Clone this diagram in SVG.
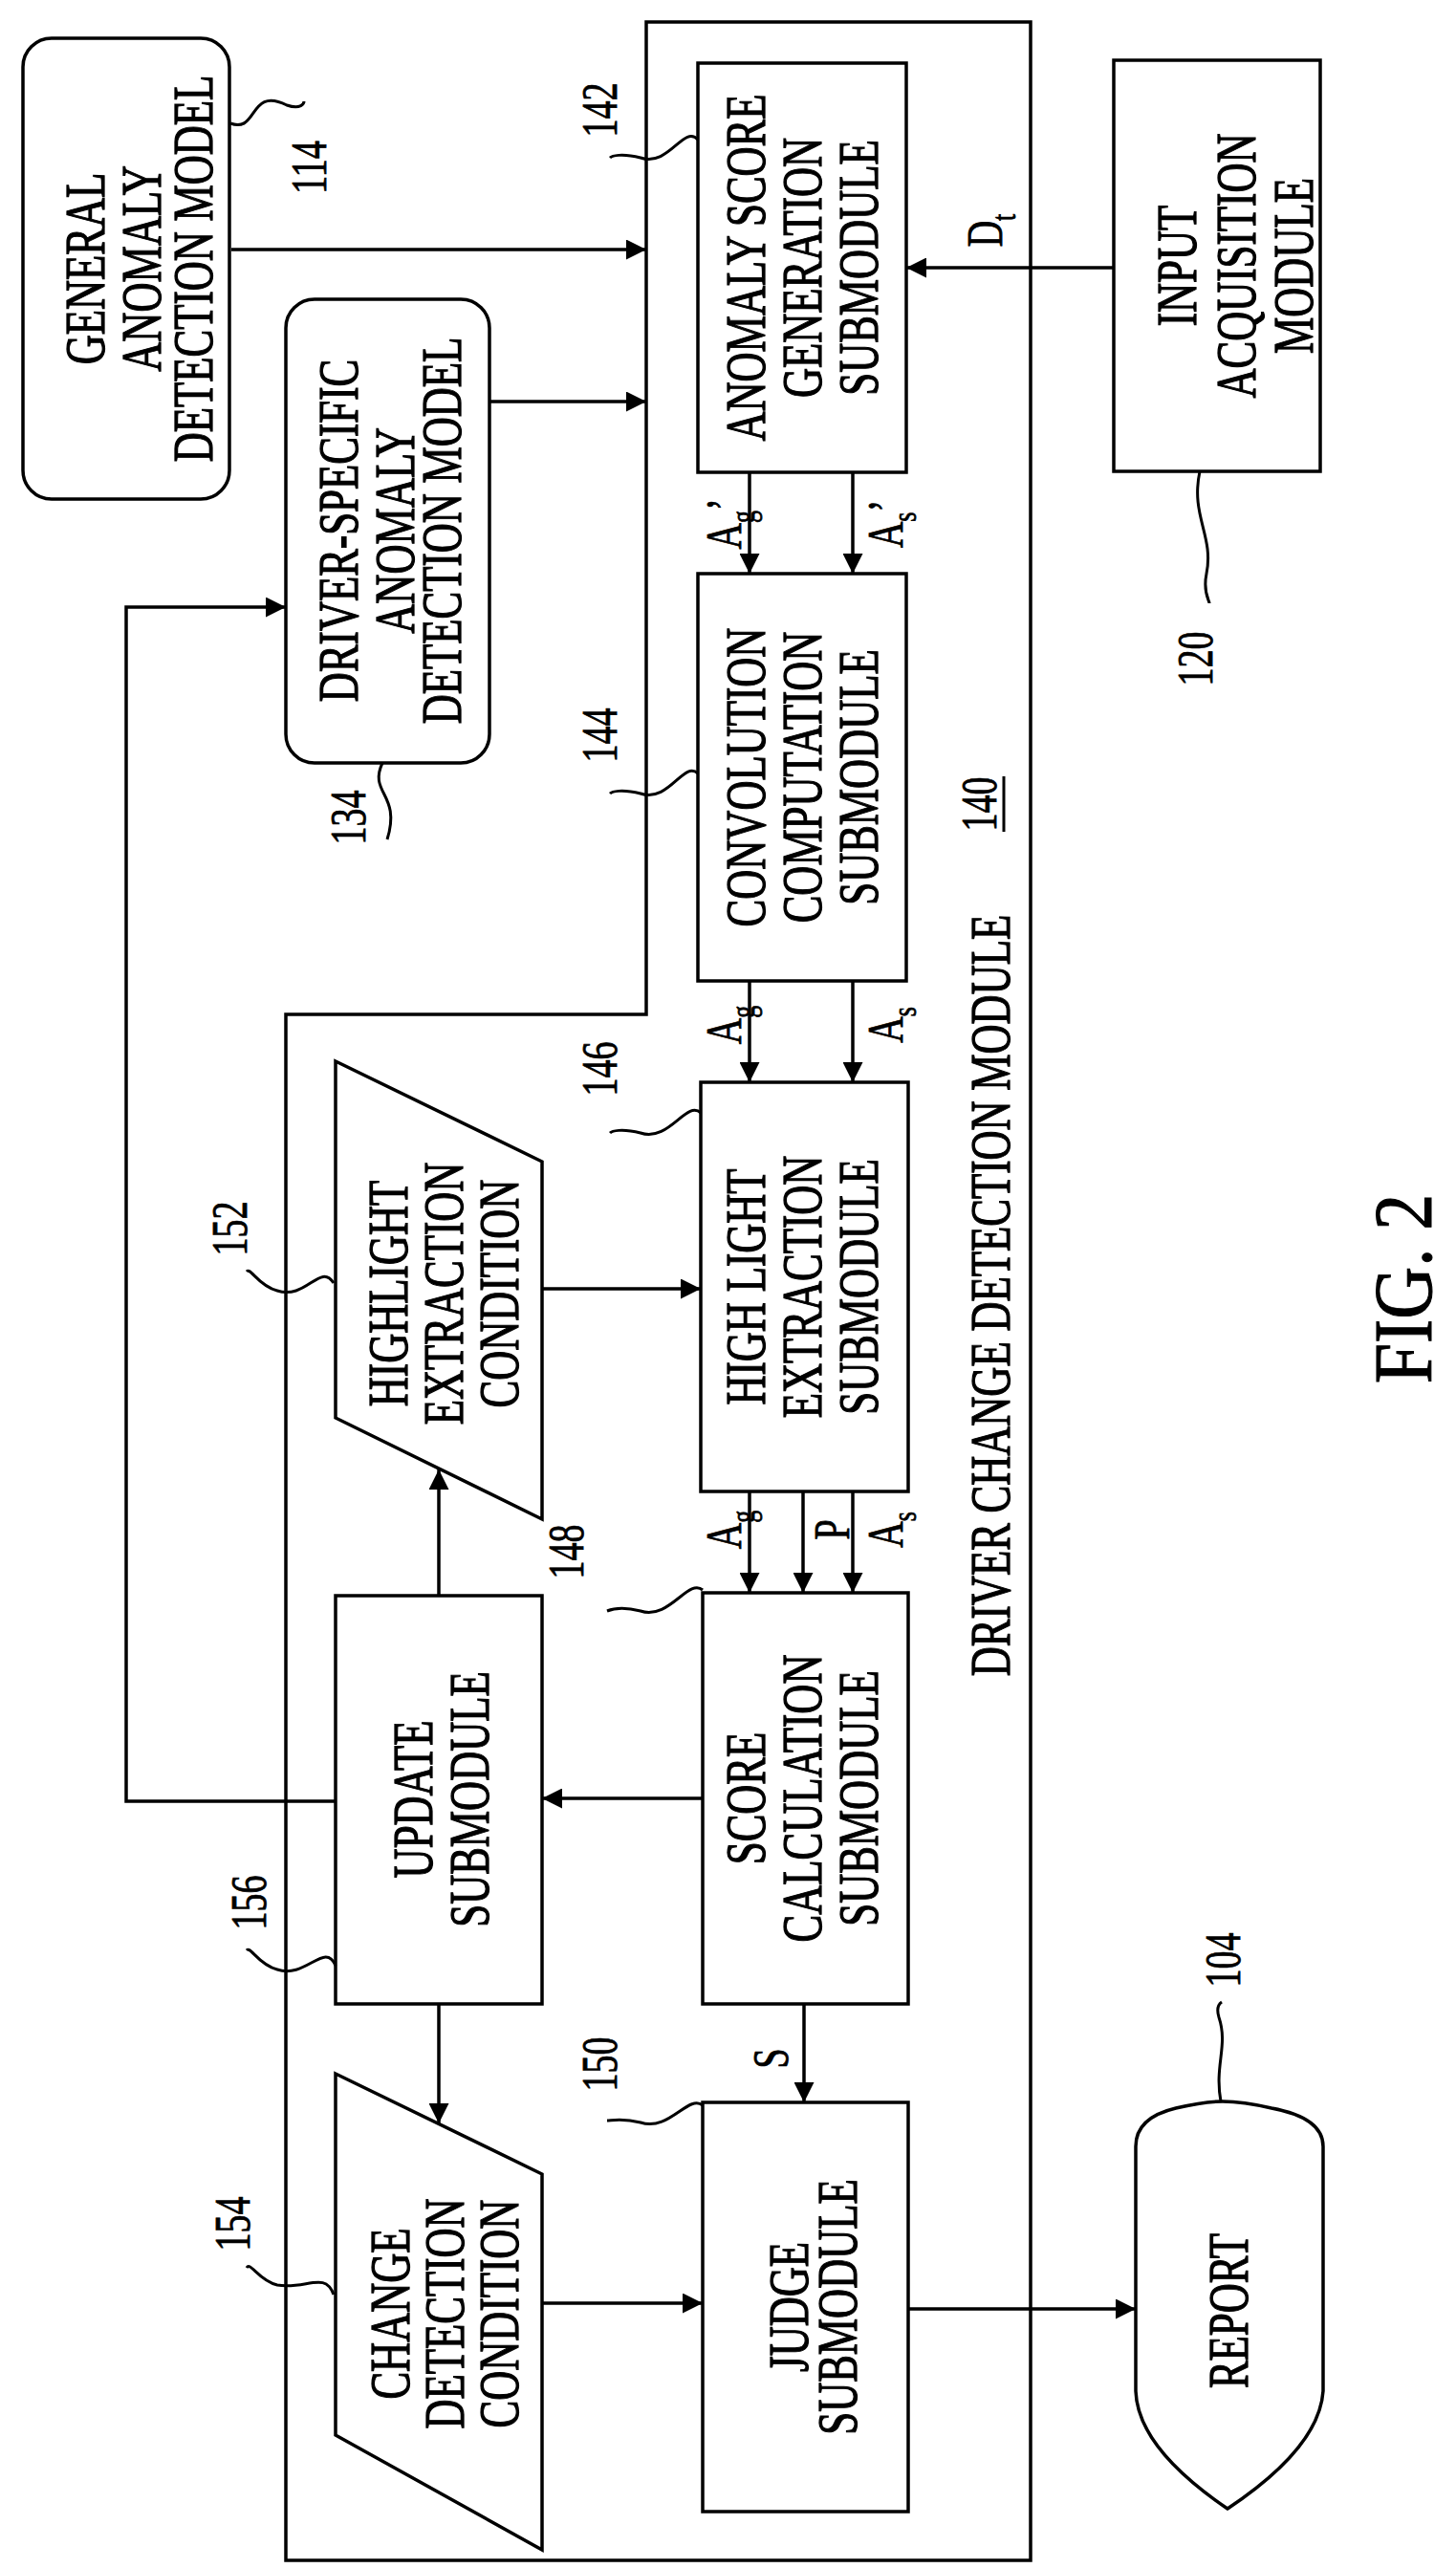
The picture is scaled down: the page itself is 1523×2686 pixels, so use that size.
<svg xmlns="http://www.w3.org/2000/svg" width="1523" height="2686" viewBox="0 0 1523 2686">
<style>
.b{fill:#fff;stroke:#000;stroke-width:3.5}
.l{fill:none;stroke:#000;stroke-width:3.5}
.s{fill:none;stroke:#000;stroke-width:3}
.t{font-family:"Liberation Serif",serif;font-size:43px;text-anchor:middle;dominant-baseline:central;fill:#000;stroke:#000;stroke-width:0.9}
.n{font-family:"Liberation Serif",serif;font-size:38px;text-anchor:middle;dominant-baseline:central;fill:#000;stroke:#000;stroke-width:0.6}
</style>
<defs>
<marker id="a" viewBox="0 0 10 10" refX="10" refY="5" markerWidth="7" markerHeight="6" markerUnits="strokeWidth" orient="auto"><path d="M0,0 L10,5 L0,10 Z" fill="#000"/></marker>
</defs>
<rect width="1523" height="2686" fill="#fff"/>
<g id="module140">
<path class="b" d="M676,23 L1078,23 L1078,2678 L299,2678 L299,1061 L676,1061 Z"/>
<text class="t" transform="translate(1035,1355) rotate(-90) scale(1,1.4)">DRIVER CHANGE DETECTION MODULE</text>
<text class="n" transform="translate(1024,841) rotate(-90) scale(1,1.4)">140</text>
<line class="s" x1="1050" y1="812" x2="1050" y2="870"/>
</g>
<g id="general114">
<rect class="b" x="24" y="40" width="216" height="482" rx="30"/>
<text class="t" transform="translate(88,281) rotate(-90) scale(1,1.4)">GENERAL</text>
<text class="t" transform="translate(147,281) rotate(-90) scale(1,1.4)">ANOMALY</text>
<text class="t" transform="translate(201,281) rotate(-90) scale(1,1.4)">DETECTION MODEL</text>
<path class="s" d="M241,129 C270,140 260,90 300,110 C315,115 318,108 318,106"/>
<text class="n" transform="translate(323,175) rotate(-90) scale(1,1.4)">114</text>
</g>
<g id="driver134">
<rect class="b" x="299" y="313" width="213" height="485" rx="30"/>
<text class="t" transform="translate(353,555) rotate(-90) scale(1,1.4)">DRIVER-SPECIFIC</text>
<text class="t" transform="translate(412,555) rotate(-90) scale(1,1.4)">ANOMALY</text>
<text class="t" transform="translate(461,555) rotate(-90) scale(1,1.4)">DETECTION MODEL</text>
<path class="s" d="M400,798 C385,830 420,830 405,878"/>
<text class="n" transform="translate(364,855) rotate(-90) scale(1,1.4)">134</text>
</g>
<g id="asg142">
<rect class="b" x="730" y="66" width="218" height="428"/>
<text class="t" transform="translate(779,280) rotate(-90) scale(1,1.4)">ANOMALY SCORE</text>
<text class="t" transform="translate(838,280) rotate(-90) scale(1,1.4)">GENERATION</text>
<text class="t" transform="translate(897,280) rotate(-90) scale(1,1.4)">SUBMODULE</text>
<path class="s" d="M730,146 C715,130 700,175 670,165 C650,160 640,163 638,165"/>
<text class="n" transform="translate(627,115) rotate(-90) scale(1,1.4)">142</text>
</g>
<g id="input120">
<rect class="b" x="1165" y="63" width="216" height="430"/>
<text class="t" transform="translate(1230,278) rotate(-90) scale(1,1.4)">INPUT</text>
<text class="t" transform="translate(1292,278) rotate(-90) scale(1,1.4)">ACQUISITION</text>
<text class="t" transform="translate(1352,278) rotate(-90) scale(1,1.4)">MODULE</text>
<path class="s" d="M1255,493 C1245,540 1270,560 1262,600 C1258,620 1265,628 1265,631"/>
<text class="n" transform="translate(1250,689) rotate(-90) scale(1,1.4)">120</text>
</g>
<g id="conv144">
<rect class="b" x="730" y="600" width="218" height="426"/>
<text class="t" transform="translate(779,813) rotate(-90) scale(1,1.4)">CONVOLUTION</text>
<text class="t" transform="translate(838,813) rotate(-90) scale(1,1.4)">COMPUTATION</text>
<text class="t" transform="translate(897,813) rotate(-90) scale(1,1.4)">SUBMODULE</text>
<path class="s" d="M730,809 C715,795 700,840 670,830 C650,825 640,828 638,830"/>
<text class="n" transform="translate(627,769) rotate(-90) scale(1,1.4)">144</text>
</g>
<g id="hl146">
<rect class="b" x="733" y="1132" width="217" height="428"/>
<text class="t" transform="translate(779,1346) rotate(-90) scale(1,1.4)">HIGH LIGHT</text>
<text class="t" transform="translate(838,1346) rotate(-90) scale(1,1.4)">EXTRACTION</text>
<text class="t" transform="translate(897,1346) rotate(-90) scale(1,1.4)">SUBMODULE</text>
<path class="s" d="M733,1164 C718,1150 700,1195 670,1185 C650,1180 640,1183 638,1185"/>
<text class="n" transform="translate(627,1118) rotate(-90) scale(1,1.4)">146</text>
</g>
<g id="hlcond152">
<path class="b" d="M351,1110 L567,1215 L567,1589 L351,1483 Z"/>
<text class="t" transform="translate(405,1353) rotate(-90) scale(1,1.4)">HIGHLIGHT</text>
<text class="t" transform="translate(463,1353) rotate(-90) scale(1,1.4)">EXTRACTION</text>
<text class="t" transform="translate(521,1353) rotate(-90) scale(1,1.4)">CONDITION</text>
<path class="s" d="M349,1342 C335,1320 320,1360 290,1350 C270,1345 262,1325 258,1330"/>
<text class="n" transform="translate(240,1285) rotate(-90) scale(1,1.4)">152</text>
</g>
<g id="update156">
<rect class="b" x="351" y="1669" width="216" height="427"/>
<text class="t" transform="translate(431,1882) rotate(-90) scale(1,1.4)">UPDATE</text>
<text class="t" transform="translate(490,1882) rotate(-90) scale(1,1.4)">SUBMODULE</text>
<path class="s" d="M351,2056 C340,2030 320,2070 290,2060 C270,2055 262,2035 258,2040"/>
<text class="n" transform="translate(260,1990) rotate(-90) scale(1,1.4)">156</text>
</g>
<g id="score148">
<rect class="b" x="735" y="1666" width="215" height="430"/>
<text class="t" transform="translate(779,1881) rotate(-90) scale(1,1.4)">SCORE</text>
<text class="t" transform="translate(838,1881) rotate(-90) scale(1,1.4)">CALCULATION</text>
<text class="t" transform="translate(897,1881) rotate(-90) scale(1,1.4)">SUBMODULE</text>
<path class="s" d="M735,1663 C720,1650 700,1695 670,1685 C650,1680 640,1683 635,1685"/>
<text class="n" transform="translate(592,1623) rotate(-90) scale(1,1.4)">148</text>
</g>
<g id="change154">
<path class="b" d="M351,2169 L567,2274 L567,2667 L351,2547 Z"/>
<text class="t" transform="translate(407,2420) rotate(-90) scale(1,1.4)">CHANGE</text>
<text class="t" transform="translate(464,2420) rotate(-90) scale(1,1.4)">DETECTION</text>
<text class="t" transform="translate(521,2420) rotate(-90) scale(1,1.4)">CONDITION</text>
<path class="s" d="M349,2400 C340,2375 320,2395 290,2390 C270,2385 262,2365 258,2372"/>
<text class="n" transform="translate(243,2326) rotate(-90) scale(1,1.4)">154</text>
</g>
<g id="judge150">
<rect class="b" x="735" y="2199" width="215" height="428"/>
<text class="t" transform="translate(824,2413) rotate(-90) scale(1,1.4)">JUDGE</text>
<text class="t" transform="translate(875,2413) rotate(-90) scale(1,1.4)">SUBMODULE</text>
<path class="s" d="M735,2202 C720,2190 700,2230 670,2220 C650,2215 640,2218 635,2218"/>
<text class="n" transform="translate(627,2159) rotate(-90) scale(1,1.4)">150</text>
</g>
<g id="report104">
<path class="b" d="M1188,2245 Q1188,2215 1230,2205 Q1260,2198 1279,2198 Q1300,2198 1330,2205 Q1384,2215 1384,2245 L1384,2501 Q1380,2560 1284,2624 Q1190,2560 1188,2501 Z"/>
<text class="t" transform="translate(1284,2417) rotate(-90) scale(1,1.4)">REPORT</text>
<path class="s" d="M1277,2198 C1270,2160 1285,2140 1275,2110 C1272,2100 1275,2096 1278,2094"/>
<text class="n" transform="translate(1279,2050) rotate(-90) scale(1,1.4)">104</text>
</g>
<g id="connectors">
<line class="l" x1="242" y1="261" x2="676" y2="261" marker-end="url(#a)"/>
<line class="l" x1="512" y1="420" x2="676" y2="420" marker-end="url(#a)"/>
<line class="l" x1="1165" y1="280" x2="948" y2="280" marker-end="url(#a)"/>
<line class="l" x1="784" y1="494" x2="784" y2="600" marker-end="url(#a)"/>
<line class="l" x1="892" y1="494" x2="892" y2="600" marker-end="url(#a)"/>
<line class="l" x1="784" y1="1026" x2="784" y2="1132" marker-end="url(#a)"/>
<line class="l" x1="892" y1="1026" x2="892" y2="1132" marker-end="url(#a)"/>
<line class="l" x1="567" y1="1348" x2="733" y2="1348" marker-end="url(#a)"/>
<line class="l" x1="784" y1="1560" x2="784" y2="1666" marker-end="url(#a)"/>
<line class="l" x1="840" y1="1560" x2="840" y2="1666" marker-end="url(#a)"/>
<line class="l" x1="892" y1="1560" x2="892" y2="1666" marker-end="url(#a)"/>
<line class="l" x1="735" y1="1881" x2="567" y2="1881" marker-end="url(#a)"/>
<line class="l" x1="459" y1="1669" x2="459" y2="1537" marker-end="url(#a)"/>
<polyline class="l" points="351,1884 132,1884 132,635 299,635" marker-end="url(#a)"/>
<line class="l" x1="459" y1="2096" x2="459" y2="2221" marker-end="url(#a)"/>
<line class="l" x1="841" y1="2096" x2="841" y2="2199" marker-end="url(#a)"/>
<line class="l" x1="567" y1="2409" x2="735" y2="2409" marker-end="url(#a)"/>
<line class="l" x1="950" y1="2415" x2="1188" y2="2415" marker-end="url(#a)"/>
<text class="n" transform="translate(1030,241) rotate(-90) scale(1,1.4)">D<tspan font-size="26" baseline-shift="sub">t</tspan></text>
<text class="n" transform="translate(757,548) rotate(-90) scale(1,1.4)">A<tspan font-size="26" baseline-shift="sub">g</tspan>’</text>
<text class="n" transform="translate(926,548) rotate(-90) scale(1,1.4)">A<tspan font-size="26" baseline-shift="sub">s</tspan>’</text>
<text class="n" transform="translate(757,1072) rotate(-90) scale(1,1.4)">A<tspan font-size="26" baseline-shift="sub">g</tspan></text>
<text class="n" transform="translate(926,1072) rotate(-90) scale(1,1.4)">A<tspan font-size="26" baseline-shift="sub">s</tspan></text>
<text class="n" transform="translate(757,1600) rotate(-90) scale(1,1.4)">A<tspan font-size="26" baseline-shift="sub">g</tspan></text>
<text class="n" transform="translate(870,1600) rotate(-90) scale(1,1.4)">P</text>
<text class="n" transform="translate(926,1600) rotate(-90) scale(1,1.4)">A<tspan font-size="26" baseline-shift="sub">s</tspan></text>
<text class="n" transform="translate(806,2153) rotate(-90) scale(1,1.4)">S</text>
</g>
<text class="t" style="font-size:76px" transform="translate(1468,1348) rotate(-90) scale(1,1.15)">FIG. 2</text>
</svg>
